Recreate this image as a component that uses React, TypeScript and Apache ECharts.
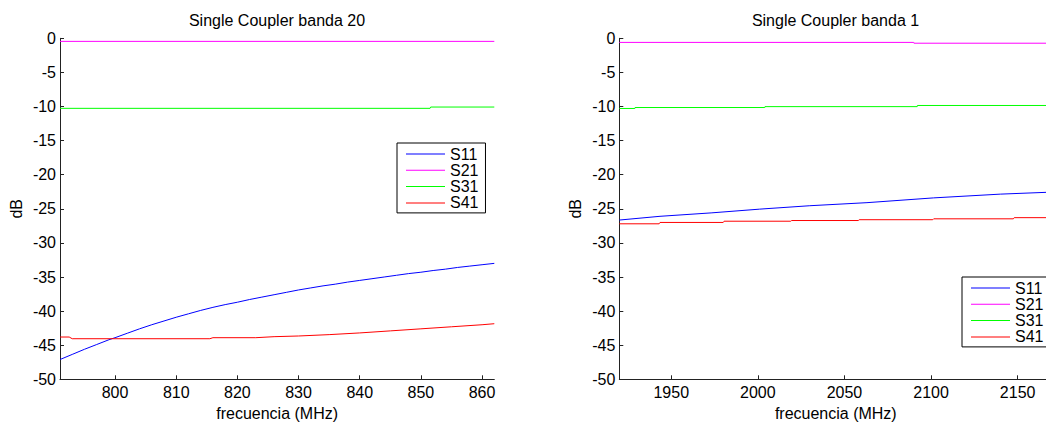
import React, { useEffect, useRef } from "react";
import * as echarts from "echarts";

// ---- Data ----
const seriesNames = ["S11", "S21", "S31", "S41"];
const seriesColors = ["#0000ff", "#ff00ff", "#00ff00", "#ff0000"];

const leftTitle = "Single Coupler banda 20";
const rightTitle = "Single Coupler banda 1";
const xName = "frecuencia (MHz)";
const yName = "dB";

const leftXTicks = [800, 810, 820, 830, 840, 850, 860];
const rightXTicks = [1950, 2000, 2050, 2100, 2150];

// Banda 20
const b20_S11: [number, number][] = [
  [791, -47.1], [793, -46.35], [795, -45.6], [797, -44.9], [799, -44.2], [800, -43.9],
  [802, -43.25], [804, -42.6], [806, -42.0], [808, -41.45], [810, -40.9], [812, -40.4],
  [814, -39.9], [816, -39.45], [818, -39.05], [820, -38.7], [822, -38.3], [824, -37.95],
  [826, -37.6], [828, -37.25], [830, -36.9], [832, -36.6], [834, -36.3], [836, -36.05],
  [838, -35.75], [840, -35.5], [842, -35.25], [844, -35.0], [846, -34.75], [848, -34.5],
  [850, -34.3], [852, -34.05], [854, -33.85], [856, -33.6], [858, -33.4], [860, -33.2],
  [862, -33.0],
];
const b20_S21: [number, number][] = [[791, -0.45], [862, -0.45]];
const b20_S31: [number, number][] = [[791, -10.27], [851.5, -10.27], [851.6, -10.08], [862, -10.08]];
const b20_S41: [number, number][] = [
  [791, -43.8], [792.5, -43.8], [793, -44.05], [815.5, -44.05], [816, -43.9], [823, -43.9],
  [826, -43.75], [830, -43.65], [835, -43.45], [840, -43.2], [845, -42.9], [850, -42.6],
  [855, -42.3], [860, -42.0], [862, -41.85],
];

// Banda 1
const b1_S11: [number, number][] = [
  [1920, -26.65], [1943.5, -26.1], [1973, -25.6], [2001, -25.05], [2030, -24.55],
  [2063, -24.1], [2101.5, -23.4], [2140, -22.85], [2170, -22.55],
];
const b1_S21: [number, number][] = [[1920, -0.6], [2090, -0.6], [2090.1, -0.72], [2170, -0.72]];
const b1_S31: [number, number][] = [
  [1920, -10.29], [1929, -10.29], [1929.1, -10.15], [2004, -10.15], [2004.1, -10.02],
  [2092, -10.02], [2092.1, -9.85], [2170, -9.85],
];
const b1_S41: [number, number][] = [
  [1920, -27.2], [1943, -27.2], [1943.5, -27.0], [1980, -27.0], [1980.5, -26.82],
  [2019, -26.82], [2019.5, -26.72], [2058, -26.72], [2058.5, -26.6], [2101, -26.6],
  [2101.5, -26.47], [2147.5, -26.47], [2148, -26.3], [2170, -26.3],
];

const leftData = [b20_S11, b20_S21, b20_S31, b20_S41];
const rightData = [b1_S11, b1_S21, b1_S31, b1_S41];

const FONT = "'Liberation Sans', Arial, sans-serif";
const FS = 16;

function xAxisOpt(gridIndex: number, min: number, max: number, ticks: number[]) {
  return {
    type: "value",
    gridIndex,
    min,
    max,
    name: xName,
    nameLocation: "middle",
    nameGap: 25,
    nameTextStyle: { color: "#000", fontSize: FS, fontFamily: FONT },
    axisLine: { show: true, onZero: false, lineStyle: { color: "#222", width: 1 } },
    axisTick: { show: true, inside: true, length: 4, lineStyle: { color: "#222" }, customValues: ticks },
    axisLabel: {
      color: "#000", fontSize: FS, fontFamily: FONT, margin: 5, customValues: ticks,
      formatter: (v: number) => String(v),
    },
    splitLine: { show: false },
  };
}

function yAxisOpt(gridIndex: number) {
  return {
    type: "value",
    gridIndex,
    min: -50,
    max: 0,
    interval: 5,
    name: yName,
    nameLocation: "middle",
    nameGap: 36,
    nameRotate: 90,
    nameTextStyle: { color: "#000", fontSize: FS, fontFamily: FONT },
    axisLine: { show: true, onZero: false, lineStyle: { color: "#222", width: 1 } },
    axisTick: { show: true, inside: true, length: 4, lineStyle: { color: "#222" } },
    axisLabel: { color: "#000", fontSize: FS, fontFamily: FONT, margin: 4, formatter: (v: number) => String(v) },
    splitLine: { show: false },
  };
}

function legendOpt(left: number, top: number) {
  return {
    orient: "vertical",
    left,
    top,
    data: seriesNames.map((n) => ({ name: n, icon: "path://M0,0h39v1h-39z" })),
    itemWidth: 39,
    itemHeight: 20,
    itemGap: 0.3,
    symbolKeepAspect: true,
    padding: [3, 7, 2, 9],
    borderColor: "#000",
    borderWidth: 1,
    backgroundColor: "#fff",
    selectedMode: false,
    textStyle: { color: "#000", fontSize: FS, fontFamily: FONT },
  };
}

export default function App() {
  const ref = useRef<HTMLDivElement>(null);
  useEffect(() => {
    if (!ref.current) return;
    const chart = echarts.init(ref.current, null, { renderer: "svg" });
    const series: any[] = [];
    leftData.forEach((d, i) =>
      series.push({
        name: seriesNames[i], type: "line", xAxisIndex: 0, yAxisIndex: 0, data: d,
        symbol: "none", showSymbol: false, color: seriesColors[i],
        itemStyle: { color: seriesColors[i] },
        lineStyle: { color: seriesColors[i], width: 1 }, z: 2,
      })
    );
    rightData.forEach((d, i) =>
      series.push({
        name: seriesNames[i], type: "line", xAxisIndex: 1, yAxisIndex: 1, data: d,
        symbol: "none", showSymbol: false, color: seriesColors[i],
        itemStyle: { color: seriesColors[i] },
        lineStyle: { color: seriesColors[i], width: 1 }, z: 2,
      })
    );
    chart.setOption({
      animation: false,
      backgroundColor: "#fff",
      title: [
        { text: leftTitle, left: 277, top: 12, textAlign: "center", padding: 0,
          textStyle: { color: "#000", fontSize: FS, fontWeight: "normal", fontFamily: FONT } },
        { text: rightTitle, left: 835.5, top: 12, textAlign: "center", padding: 0,
          textStyle: { color: "#000", fontSize: FS, fontWeight: "normal", fontFamily: FONT } },
      ],
      legend: [legendOpt(397, 143), legendOpt(962, 277)],
      grid: [
        { left: 60, right: 551.7, top: 38.3, bottom: 42.7, outerBoundsMode: "none", containLabel: false },
        { left: 619.3, right: -6.3, top: 38.3, bottom: 42.7, outerBoundsMode: "none", containLabel: false },
      ],
      xAxis: [xAxisOpt(0, 791, 862, leftXTicks), xAxisOpt(1, 1920, 2170, rightXTicks)],
      yAxis: [yAxisOpt(0), yAxisOpt(1)],
      series,
    });
    return () => chart.dispose();
  }, []);
  return (
    <div
      ref={ref}
      style={{ position: "fixed", left: 0, top: 0, width: 1046, height: 422, overflow: "hidden" }}
    />
  );
}
